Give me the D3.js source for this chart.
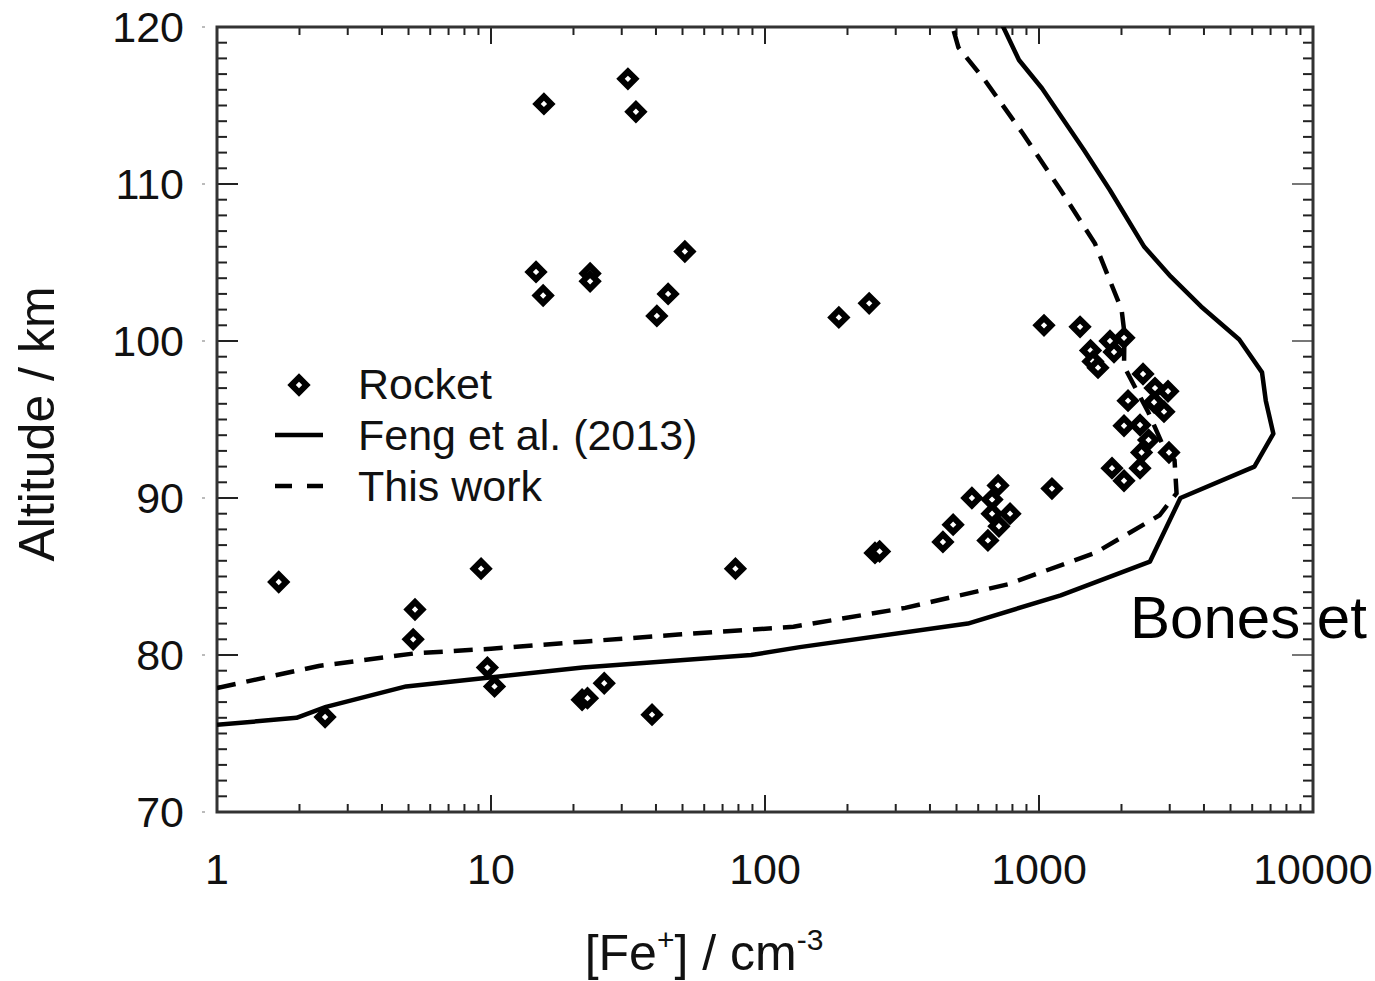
<!DOCTYPE html>
<html>
<head>
<meta charset="utf-8">
<script src="https://cdn.jsdelivr.net/npm/d3@7"></script>
<style>
  html, body { margin: 0; padding: 0; background: #fff; overflow: hidden; }
  svg { display: block; font-family: "Liberation Sans", Arial, Helvetica, sans-serif; }
</style>
</head>
<body>
<div id="chart"></div>
<script>
// Rocket measurements: [Fe+] (cm-3) and altitude (km)
const rocketConc = [1.68, 2.48, 5.28, 5.2, 9.2, 9.7, 10.3, 21.5, 22.5, 25.9, 38.7, 78,
    14.6, 15.5, 15.6, 23, 23, 31.6, 33.8, 40.3, 44.3, 51, 186, 240, 252, 262,
    446, 486, 569, 651, 674, 709, 674, 714, 784, 1115, 1043, 1412,
    1816, 2043, 1878, 1542, 1574, 1642, 2397, 2650, 2957, 2113, 2630, 2859,
    2043, 2337, 2511, 2368, 2981, 2337, 1847, 2043];
const rocketAlt = [84.65, 76.05, 82.9, 81.0, 85.5, 79.2, 78.0, 77.15, 77.25, 78.2, 76.2, 85.5,
    104.4, 102.9, 115.1, 104.3, 103.8, 116.7, 114.6, 101.6, 103.0, 105.7, 101.5, 102.4, 86.5, 86.6,
    87.2, 88.3, 90.0, 87.3, 89.9, 90.8, 89.0, 88.2, 89.0, 90.6, 101.0, 100.9,
    100.0, 100.2, 99.3, 99.4, 98.7, 98.3, 97.9, 97.0, 96.8, 96.2, 96.1, 95.5,
    94.6, 94.65, 93.7, 92.9, 92.9, 91.9, 91.9, 91.1];

// Feng et al. (2013) profile
const fengConc = [1, 1.95, 2.5, 4.9, 10.3, 21.6, 89, 134, 550, 1200, 2541, 3282, 6112, 7167,
    6725, 6515, 5379, 3902, 3029, 2422, 1816, 1455, 1025, 845, 745, 720];
const fengAlt = [75.55, 76.0, 76.7, 78.0, 78.6, 79.2, 80.0, 80.5, 82.0, 83.8, 85.95, 90.0, 92.0, 94.1,
    96.2, 98.0, 100.1, 102.2, 104.1, 106.0, 109.6, 112.2, 116.1, 117.9, 119.9, 120.4];

// This work profile
const workConc = [1, 2.35, 5.25, 10, 21.6, 48.3, 127, 325, 769, 1601, 2754, 3177, 3124, 2842,
    2500, 2250, 2043, 2050, 2002, 1601, 1201, 874, 635, 508, 484];
const workAlt = [77.9, 79.3, 80.1, 80.4, 80.85, 81.3, 81.8, 83.0, 84.5, 86.5, 88.9, 90.3, 92.4, 93.3,
    95.5, 97.0, 98.4, 100.5, 102.0, 106.2, 109.6, 113.2, 116.6, 118.7, 120];

const xTickValues = [1, 10, 100, 1000, 10000];
const xTickLabels = ["1", "10", "100", "1000", "10000"];
const yTickValues = [70, 80, 90, 100, 110, 120];
const legendLabels = ["Rocket", "Feng et al. (2013)", "This work"];

const width = 1375;
const height = 981;
const marginLeft = 217;
const marginRight = 62;
const marginTop = 27;
const marginBottom = 169;

const svg = d3.select("#chart").append("svg")
    .attr("width", width)
    .attr("height", height)
    .attr("viewBox", [0, 0, width, height]);

const x = d3.scaleLog()
    .domain([1, 10000])
    .range([marginLeft, width - marginRight]);

const y = d3.scaleLinear()
    .domain([70, 120])
    .range([height - marginBottom, marginTop]);

const x0 = marginLeft, x1 = width - marginRight;
const y0 = height - marginBottom, y1 = marginTop;

svg.append("clipPath").attr("id", "plot-clip")
    .append("rect")
    .attr("x", x0).attr("y", y1)
    .attr("width", x1 - x0).attr("height", y0 - y1);

// minor ticks (log x every integer multiple, y every km)
const xMinor = [];
for (let p = 1; p < 10000; p *= 10) {
    for (let m = 2; m <= 9; m++) xMinor.push(p * m);
}
const yMinor = d3.range(71, 120).filter(v => v % 10 !== 0);

const ticks = svg.append("g").attr("stroke", "#222").attr("stroke-width", 2);

ticks.selectAll(".xminb").data(xMinor).join("line")
    .attr("x1", d => x(d)).attr("x2", d => x(d))
    .attr("y1", y0).attr("y2", y0 - 8);
ticks.selectAll(".xmint").data(xMinor).join("line")
    .attr("x1", d => x(d)).attr("x2", d => x(d))
    .attr("y1", y1).attr("y2", y1 + 8);
ticks.selectAll(".xmajb").data(xTickValues).join("line")
    .attr("x1", d => x(d)).attr("x2", d => x(d))
    .attr("y1", y0).attr("y2", y0 - 17);
ticks.selectAll(".xmajt").data(xTickValues).join("line")
    .attr("x1", d => x(d)).attr("x2", d => x(d))
    .attr("y1", y1).attr("y2", y1 + 17);

ticks.selectAll(".yminl").data(yMinor).join("line")
    .attr("x1", x0).attr("x2", x0 + 10)
    .attr("y1", d => y(d)).attr("y2", d => y(d));
ticks.selectAll(".yminr").data(yMinor).join("line")
    .attr("x1", x1).attr("x2", x1 - 10)
    .attr("y1", d => y(d)).attr("y2", d => y(d));
ticks.selectAll(".ymajl").data(yTickValues).join("line")
    .attr("x1", x0).attr("x2", x0 + 21)
    .attr("y1", d => y(d)).attr("y2", d => y(d));
ticks.selectAll(".ymajr").data(yTickValues).join("line")
    .attr("x1", x1).attr("x2", x1 - 21)
    .attr("y1", d => y(d)).attr("y2", d => y(d))
    .attr("stroke", "#777");

// small faint outer marks on the left axis
svg.append("g").selectAll("line").data(yTickValues).join("line")
    .attr("x1", x0 - 15).attr("x2", x0 - 12)
    .attr("y1", d => y(d)).attr("y2", d => y(d))
    .attr("stroke", "#bbb").attr("stroke-width", 2);

// frame
svg.append("rect")
    .attr("x", x0).attr("y", y1)
    .attr("width", x1 - x0).attr("height", y0 - y1)
    .attr("fill", "none")
    .attr("stroke", "#333")
    .attr("stroke-width", 3);

// tick labels
svg.append("g")
    .attr("font-size", "43px")
    .attr("fill", "#111")
    .selectAll("text").data(xTickValues).join("text")
    .attr("x", d => x(d))
    .attr("y", 884)
    .attr("text-anchor", "middle")
    .text((d, i) => xTickLabels[i]);

svg.append("g")
    .attr("font-size", "43px")
    .attr("fill", "#111")
    .selectAll("text").data(yTickValues).join("text")
    .attr("x", 184)
    .attr("y", d => y(d) + 15)
    .attr("text-anchor", "end")
    .text(d => d);

// axis titles
const xTitle = svg.append("text")
    .attr("x", 704)
    .attr("y", 970)
    .attr("text-anchor", "middle")
    .attr("font-size", "50px")
    .attr("fill", "#111");
xTitle.append("tspan").text("[Fe");
xTitle.append("tspan").attr("font-size", "30px").attr("dy", -20).text("+");
xTitle.append("tspan").attr("dy", 20).text("] / cm");
xTitle.append("tspan").attr("font-size", "30px").attr("dy", -20).text("-3");

svg.append("text")
    .attr("transform", "translate(54,424) rotate(-90)")
    .attr("text-anchor", "middle")
    .attr("font-size", "50px")
    .attr("fill", "#111")
    .text("Altitude / km");

// curves
const line = d3.line()
    .x(d => x(d[0]))
    .y(d => y(d[1]));

const plot = svg.append("g").attr("clip-path", "url(#plot-clip)");

plot.append("path")
    .datum(fengConc.map((c, i) => [c, fengAlt[i]]))
    .attr("fill", "none")
    .attr("stroke", "#000")
    .attr("stroke-width", 4.5)
    .attr("stroke-linejoin", "round")
    .attr("d", line);

plot.append("path")
    .datum(workConc.map((c, i) => [c, workAlt[i]]))
    .attr("fill", "none")
    .attr("stroke", "#000")
    .attr("stroke-width", 4.5)
    .attr("stroke-dasharray", "19,11")
    .attr("d", line);

// rocket diamonds
const diamond = d3.symbol().type(d3.symbolSquare).size(110);

plot.append("g")
    .selectAll("path")
    .data(rocketConc.map((c, i) => [c, rocketAlt[i]]))
    .join("path")
    .attr("transform", d => `translate(${x(d[0])},${y(d[1])}) rotate(45)`)
    .attr("d", diamond)
    .attr("fill", "#fff")
    .attr("stroke", "#000")
    .attr("stroke-width", 6);

// legend
const legend = svg.append("g").attr("font-size", "43px").attr("fill", "#111");

legend.append("path")
    .attr("transform", "translate(299,385) rotate(45)")
    .attr("d", diamond)
    .attr("fill", "#fff")
    .attr("stroke", "#000")
    .attr("stroke-width", 6);

legend.append("line")
    .attr("x1", 275).attr("x2", 323)
    .attr("y1", 435).attr("y2", 435)
    .attr("stroke", "#000").attr("stroke-width", 4.5);

legend.append("line")
    .attr("x1", 275).attr("x2", 323)
    .attr("y1", 486).attr("y2", 486)
    .attr("stroke", "#000").attr("stroke-width", 4.5)
    .attr("stroke-dasharray", "17,15");

legend.selectAll("text").data(legendLabels).join("text")
    .attr("x", 358)
    .attr("y", (d, i) => 399 + i * 51)
    .text(d => d);

// overlaid caption (runs off the page edge in the source)
svg.append("text")
    .attr("x", 1130)
    .attr("y", 638)
    .attr("font-size", "60px")
    .attr("fill", "#000")
    .text("Bones et al.");
</script>
</body>
</html>
